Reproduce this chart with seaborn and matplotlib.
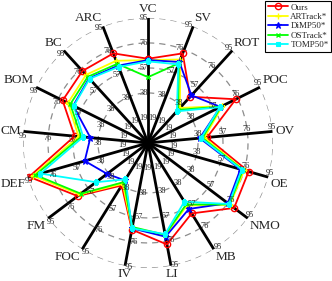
import numpy as np
import matplotlib
matplotlib.use("Agg")
import matplotlib.pyplot as plt
import seaborn as sns

# attribute axes, clockwise from the top
attributes = ["VC", "SV", "ROT", "POC", "OV", "OE", "NMO", "MB", "LI",
              "IV", "FOC", "FM", "DEF", "CM", "BOM", "BC", "ARC"]
ticks = [19, 38, 57, 76, 95]

# per-attribute scores
ours = [64, 73, 47.5, 74.5, 45, 79.5, 82, 63, 78.5, 67, 38, 67, 94, 56, 72.5, 74, 73]
artrack = [63, 68, 36, 63, 43, 76, 78, 56, 71.5, 66, 36.5, 65, 91, 53, 68, 70, 67]
dimp50 = [63, 66, 49, 61.5, 39.5, 73, 76, 59, 72.5, 66, 33.5, 39, 50, 44, 63.5, 66.5, 63]
ostrack = [50, 65, 34, 62, 41.5, 75, 77.5, 55, 71, 65, 35, 64, 89, 51, 66, 68, 64.5]
tomp50 = [62, 64, 32.5, 61, 40.5, 74, 77, 52.5, 70.5, 66, 32.5, 49.5, 85, 49.5, 63, 66, 62]

series = [
    ("Ours", ours, (1, 0, 0), dict(marker="o", mfc="none", ms=4.5, mew=1.0)),
    ("ARTrack*", artrack, (1, 1, 0), dict(marker="+", ms=5, mew=1.0)),
    ("DiMP50*", dimp50, (0, 0, 1), dict(marker="*", ms=4.5, mew=0.8)),
    ("OSTrack*", ostrack, (0, 1, 0), dict(marker="x", ms=3.5, mew=1.0)),
    ("TOMP50*", tomp50, (0, 1, 1), dict(marker="s", ms=3.5, mew=0.8)),
]

sns.set_style("white")
plt.rcParams["font.family"] = ["Liberation Serif", "DejaVu Serif"]

fig = plt.figure(figsize=(3.32, 2.81), dpi=100)
ax = fig.add_axes([0.0693, 0.0463, 0.753, 0.890], projection="polar")
ax.set_theta_zero_location("N")
ax.set_theta_direction(-1)
ax.set_ylim(0, 95)
ax.grid(False)
ax.spines["polar"].set_visible(False)
ax.set_xticks([])
ax.set_yticks([])

n = len(attributes)
theta = np.arange(n) * 2 * np.pi / n

# dashed rings
ring = np.linspace(0, 2 * np.pi, 300)
for t in ticks[1:]:
    ax.plot(ring, np.full_like(ring, t), color="0.55", ls=(0, (5, 4)), lw=0.9, zorder=1)

# spokes
for th in theta:
    ax.plot([th, th], [0, ticks[-1]], color="black", lw=2.0, zorder=2)

# data polygons
theta_closed = np.append(theta, theta[0] + 2 * np.pi)
handles = []
for name, vals, col, mk in series:
    v = np.append(vals, vals[0])
    sns.lineplot(x=theta_closed, y=v, ax=ax, color=col, lw=1.3, sort=False,
                 estimator=None, mec=col, zorder=3, **mk)
    handles.append(ax.lines[-1])
ax.set_xlabel("")
ax.set_ylabel("")

# tick labels beside each spoke
for th in theta:
    off = (-3.2 * np.cos(th), 3.2 * np.sin(th))
    for t in ticks:
        ax.annotate(str(t), (th, t), xytext=off, textcoords="offset points",
                    fontsize=6, ha="center", va="center", zorder=5)

# attribute labels
for th, lab in zip(theta, attributes):
    s, c = np.sin(th), np.cos(th)
    ha = "left" if s > 0.25 else ("right" if s < -0.25 else "center")
    va = "bottom" if c > 0.15 else ("top" if c < -0.15 else "center")
    ax.text(th, 97, lab, fontsize=9.5, ha=ha, va=va, clip_on=False)

leg = fig.legend(handles, [s[0] for s in series], loc="upper right",
                 bbox_to_anchor=(0.998, 0.998), fontsize=6.5, frameon=True,
                 fancybox=False, edgecolor="black", framealpha=1,
                 handlelength=2.2, handletextpad=0.3, labelspacing=0.12,
                 borderpad=0.3, borderaxespad=0)
leg.get_frame().set_linewidth(0.8)

fig.savefig("out.png", dpi=100)
